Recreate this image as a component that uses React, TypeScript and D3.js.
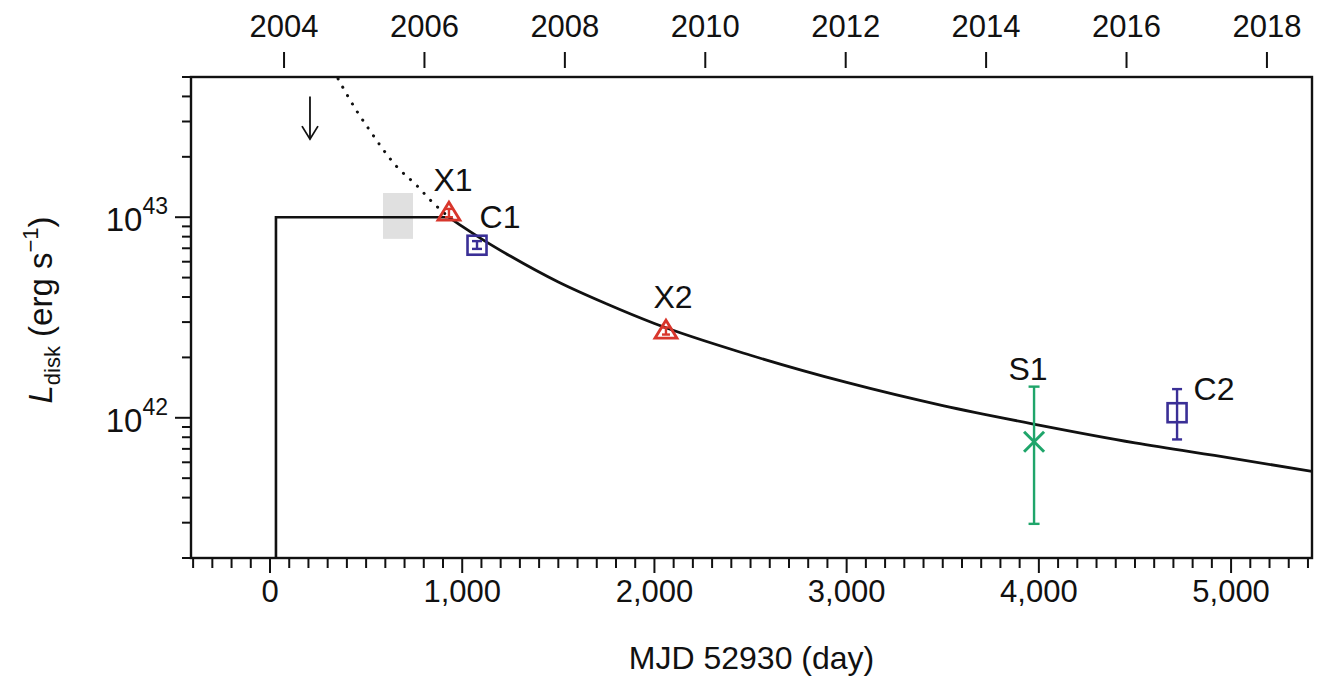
import React from "react";
import * as d3 from "d3";

// ---------- data ----------
const dayTicksMajor = [0, 1000, 2000, 3000, 4000, 5000];
const yearTicks = [2004, 2006, 2008, 2010, 2012, 2014, 2016, 2018];
const yMajorTicks = [1e42, 1e43];
const yMajorExp = [42, 43];

// decaying model curve (solid)
const curveDays = [931, 1000, 1100, 1250, 1500, 1750, 2000, 2500, 3000, 3500, 4000, 4500, 5000, 5421];
const curveL = [1.0e43, 9.0e42, 7.8e42, 6.4e42, 4.75e42, 3.7e42, 2.95e42, 2.05e42, 1.5e42, 1.15e42, 9.2e41, 7.5e41, 6.3e41, 5.4e41];

// extrapolation backwards (dotted)
const dottedDays = [330, 450, 520, 661, 760, 848, 931];
const dottedL = [5.4e43, 3.4e43, 2.7e43, 1.78e43, 1.45e43, 1.18e43, 1.0e43];

// plateau (solid step)
const plateauDays = [31, 31, 931];
const plateauL = [2e41, 1e43, 1e43];

// grey band
const bandDays = [588, 744];
const bandL = [7.8e42, 1.32e43];

// upper limit arrow
const arrowDay = 208;
const arrowL = [4.0e43, 2.45e43];

// observations
const obsNames = ["X1", "C1", "X2", "S1", "C2"];
const obsKind = ["tri", "sq", "tri", "x", "sq"];
const obsDay = [931, 1077, 2060, 3975, 4719];
const obsL = [1.05e43, 7.25e42, 2.71e42, 7.6e41, 1.06e42];
const obsLo = [1.0e43, 6.95e42, 2.6e42, 2.96e41, 7.8e41];
const obsHi = [1.1e43, 7.6e42, 2.82e42, 1.43e42, 1.39e42];

// ---------- layout ----------
const W = 1322;
const H = 680;
const L0 = 191;
const R0 = 1312;
const T0 = 77;
const B0 = 558;
const DAY0_YEAR = 2003.8;
const FONT = "'Liberation Sans', Arial, Helvetica, sans-serif";
const RED = "#d8362c";
const BLUE = "#3a2f96";
const GREEN = "#1fa56a";
const TICK_FS = 31;
const LABEL_FS = 32;

const labelOffsets: Record<string, [number, number]> = {
  X1: [4, -22],
  C1: [23, -17],
  X2: [7, -23],
  S1: [-6, -62],
  C2: [37, -13],
};

export default function App() {
  const x = d3.scaleLinear().domain([-411, 5421]).range([L0, R0]);
  const yearAt = (d: number) => DAY0_YEAR + d / 365.25;
  const xYear = d3.scaleLinear().domain([yearAt(-411), yearAt(5421)]).range([L0, R0]);
  const y = d3.scaleLog().domain([2e41, 5e43]).range([B0, T0]);

  const line = d3
    .line<[number, number]>()
    .x((p) => x(p[0]))
    .y((p) => y(p[1]))
    .curve(d3.curveMonotoneX);
  const lineLin = d3
    .line<[number, number]>()
    .x((p) => x(p[0]))
    .y((p) => y(p[1]));

  const curvePts = curveDays.map((d, i) => [d, curveL[i]] as [number, number]);
  const dottedPts = dottedDays.map((d, i) => [d, dottedL[i]] as [number, number]);
  const plateauPts = plateauDays.map((d, i) => [d, plateauL[i]] as [number, number]);

  const minorDays = d3.range(-400, 5421, 100).filter((d) => d % 1000 !== 0);
  const yMinor: number[] = [];
  [41, 42, 43].forEach((e) => {
    for (let k = 2; k <= 9; k++) {
      const v = k * Math.pow(10, e);
      if (v >= 2e41 && v <= 5e43) yMinor.push(v);
    }
  });

  const marker = (i: number) => {
    const cx = x(obsDay[i]);
    const cy = y(obsL[i]);
    const kind = obsKind[i];
    const eTop = y(obsHi[i]);
    const eBot = y(obsLo[i]);
    const name = obsNames[i];
    const off = labelOffsets[name];
    let color = RED;
    let shape: React.ReactNode = null;
    let capW = 8;
    if (kind === "tri") {
      color = RED;
      const w = 22;
      const h = 18;
      const pts = `${cx - w / 2},${cy + h * 0.4} ${cx + w / 2},${cy + h * 0.4} ${cx},${cy - h * 0.6}`;
      shape = <polygon points={pts} fill="none" stroke={color} strokeWidth={2.8} strokeLinejoin="miter" />;
      capW = 8;
    } else if (kind === "sq") {
      color = BLUE;
      const s = 19;
      shape = <rect x={cx - s / 2} y={cy - s / 2} width={s} height={s} fill="none" stroke={color} strokeWidth={2.6} />;
      capW = 10;
    } else {
      color = GREEN;
      const s = 10;
      shape = (
        <g stroke={color} strokeWidth={3}>
          <line x1={cx - s} y1={cy - s} x2={cx + s} y2={cy + s} />
          <line x1={cx - s} y1={cy + s} x2={cx + s} y2={cy - s} />
        </g>
      );
      capW = 11;
    }
    return (
      <g key={name}>
        {shape}
        <g stroke={color} strokeWidth={2.4}>
          <line x1={cx} y1={eTop} x2={cx} y2={eBot} />
          <line x1={cx - capW / 2} y1={eTop} x2={cx + capW / 2} y2={eTop} />
          <line x1={cx - capW / 2} y1={eBot} x2={cx + capW / 2} y2={eBot} />
        </g>
        <text x={cx + off[0]} y={cy + off[1]} textAnchor="middle" fontSize={LABEL_FS} fontFamily={FONT} fill="#111">
          {name}
        </text>
      </g>
    );
  };

  const ax = x(arrowDay);

  return (
    <svg
      width={W}
      height={H}
      viewBox={`0 0 ${W} ${H}`}
      style={{ position: "absolute", left: 0, top: 0, background: "#fff" }}
    >
      <defs>
        <clipPath id="plotclip">
          <rect x={L0} y={T0} width={R0 - L0} height={B0 - T0} />
        </clipPath>
      </defs>
      <rect x={0} y={0} width={W} height={H} fill="#fff" />

      {/* grey band */}
      <rect
        x={x(bandDays[0])}
        y={y(bandL[1])}
        width={x(bandDays[1]) - x(bandDays[0])}
        height={y(bandL[0]) - y(bandL[1])}
        fill="#e0e0e0"
      />

      <g clipPath="url(#plotclip)">
        <path d={line(dottedPts) || ""} fill="none" stroke="#111" strokeWidth={3} strokeDasharray="0.1 9.5" strokeLinecap="round" />
        <path d={lineLin(plateauPts) || ""} fill="none" stroke="#111" strokeWidth={2.6} />
        <path d={line(curvePts) || ""} fill="none" stroke="#111" strokeWidth={2.8} />
      </g>

      {/* upper limit arrow */}
      <g stroke="#111" strokeWidth={1.8} fill="none">
        <line x1={ax} y1={y(arrowL[0])} x2={ax} y2={y(arrowL[1])} />
        <polyline points={`${ax - 8},${y(arrowL[1]) - 13} ${ax},${y(arrowL[1])} ${ax + 8},${y(arrowL[1]) - 13}`} />
      </g>

      {obsNames.map((_, i) => marker(i))}

      {/* frame */}
      <rect x={L0} y={T0} width={R0 - L0} height={B0 - T0} fill="none" stroke="#111" strokeWidth={2.4} />

      {/* bottom axis */}
      <g stroke="#111" strokeWidth={2}>
        {minorDays.map((d) => (
          <line key={"m" + d} x1={x(d)} y1={B0} x2={x(d)} y2={B0 + 10} />
        ))}
        {dayTicksMajor.map((d) => (
          <line key={"M" + d} x1={x(d)} y1={B0} x2={x(d)} y2={B0 + 15} />
        ))}
      </g>
      {dayTicksMajor.map((d) => (
        <text key={"t" + d} x={x(d)} y={602} textAnchor="middle" fontSize={TICK_FS} fontFamily={FONT} fill="#111">
          {d3.format(",")(d)}
        </text>
      ))}
      <text x={(L0 + R0) / 2} y={669} textAnchor="middle" fontSize={LABEL_FS} fontFamily={FONT} fill="#111">
        MJD 52930 (day)
      </text>

      {/* top axis */}
      <g stroke="#111" strokeWidth={2}>
        {yearTicks.map((yr) => (
          <line key={"y" + yr} x1={xYear(yr)} y1={52} x2={xYear(yr)} y2={68} />
        ))}
      </g>
      {yearTicks.map((yr) => (
        <text key={"yt" + yr} x={xYear(yr)} y={37} textAnchor="middle" fontSize={TICK_FS} fontFamily={FONT} fill="#111">
          {yr}
        </text>
      ))}

      {/* left axis */}
      <g stroke="#111" strokeWidth={2}>
        {yMinor.map((v) => (
          <line key={"ym" + v} x1={L0 - 9} y1={y(v)} x2={L0} y2={y(v)} />
        ))}
        {yMajorTicks.map((v) => (
          <line key={"yM" + v} x1={L0 - 16} y1={y(v)} x2={L0} y2={y(v)} />
        ))}
      </g>
      {yMajorTicks.map((v, i) => (
        <text key={"ytl" + v} x={168} y={y(v) + 14} textAnchor="end" fontSize={33} fontFamily={FONT} fill="#111">
          10
          <tspan dy={-17} fontSize={23}>
            {yMajorExp[i]}
          </tspan>
        </text>
      ))}

      {/* y title */}
      <text
        transform={`translate(52, 310) rotate(-90)`}
        textAnchor="middle"
        fontSize={33}
        fontFamily={FONT}
        fill="#111"
      >
        <tspan fontStyle="italic">L</tspan>
        <tspan fontSize={22} dy={8}>disk</tspan>
        <tspan dy={-8}> (erg s</tspan>
        <tspan fontSize={22} dy={-14}>−1</tspan>
        <tspan dy={14}>)</tspan>
      </text>
    </svg>
  );
}
